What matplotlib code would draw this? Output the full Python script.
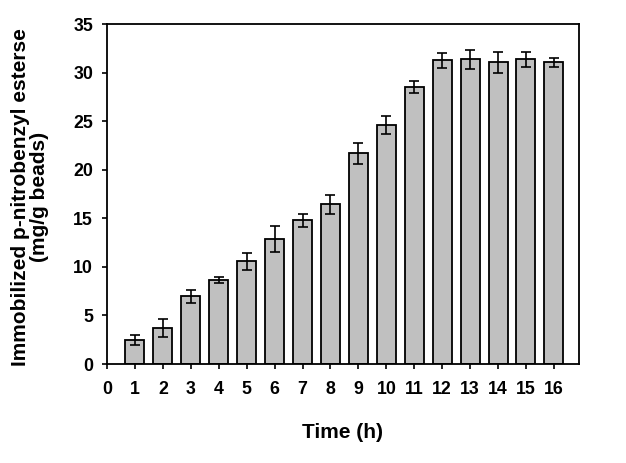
import matplotlib
matplotlib.use("Agg")
import matplotlib.pyplot as plt
import numpy as np

plt.rcParams['font.family'] = ['Liberation Sans', 'DejaVu Sans']
plt.rcParams['font.weight'] = 'bold'

# time points (h) and immobilized amount (mg/g beads)
hours = [1, 2, 3, 4, 5, 6, 7, 8, 9, 10, 11, 12, 13, 14, 15, 16]
amount = [2.45, 3.7, 6.97, 8.62, 10.57, 12.84, 14.8, 16.44,
          21.7, 24.58, 28.5, 31.28, 31.38, 31.07, 31.38, 31.07]
error = [0.5, 0.9, 0.65, 0.3, 0.9, 1.35, 0.7, 0.95,
         1.1, 0.93, 0.6, 0.8, 1.0, 1.05, 0.8, 0.45]
x_ticks = list(range(0, 17))
y_ticks = [0, 5, 10, 15, 20, 25, 30, 35]

fig = plt.figure(figsize=(6.26, 4.63), dpi=100)
ax = fig.add_axes([0.171, 0.2138, 0.754, 0.734])

ax.bar(hours, amount, width=0.68, color='#c0c0c0', edgecolor='black',
       linewidth=1.3, zorder=2)
ax.errorbar(hours, amount, yerr=error, fmt='none', ecolor='black',
            elinewidth=1.2, capsize=3.8, capthick=1.2, zorder=3)

ax.set_xlim(0, 16.9)
ax.set_ylim(0, 35)
ax.set_xticks(x_ticks)
ax.set_yticks(y_ticks)
ax.tick_params(axis='both', direction='out', length=3.6, width=1.2,
               labelsize=12.8)
ax.tick_params(axis='x', pad=8.5)
ax.tick_params(axis='y', pad=6.5)
for lbl in ax.get_xticklabels() + ax.get_yticklabels():
    lbl.set_fontweight('bold')
for s in ax.spines.values():
    s.set_linewidth(1.3)

fig.text(30 / 626, 1 - 197 / 463,
         'Immobilized p-nitrobenzyl esterse\n(mg/g beads)',
         rotation=90, ha='center', va='center', ma='center',
         fontsize=15, fontweight='bold', linespacing=1.05)
fig.text(343 / 626, 1 - 432 / 463, 'Time (h)', ha='center', va='center',
         fontsize=15, fontweight='bold')

fig.savefig('out.png', dpi=100)
